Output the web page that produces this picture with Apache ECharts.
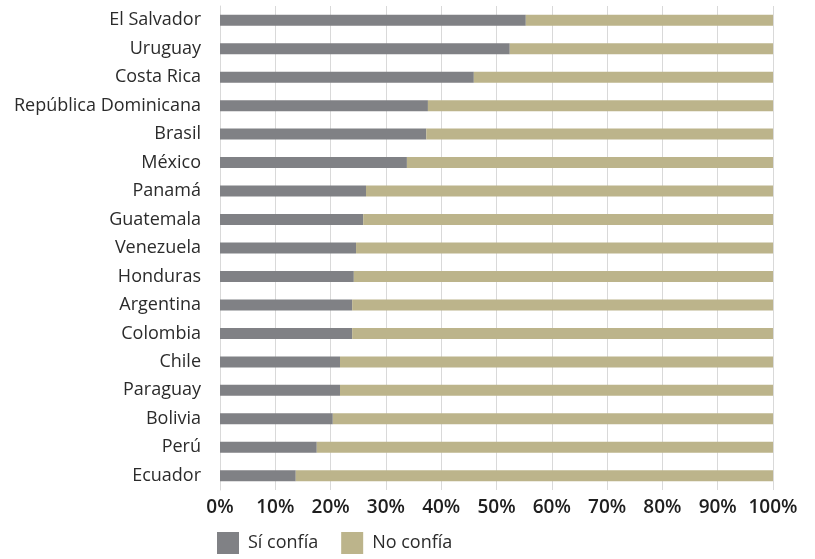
<!DOCTYPE html>
<html>
<head>
<meta charset="utf-8">
<script src="https://cdn.jsdelivr.net/npm/echarts@6/dist/echarts.min.js"></script>
<style>
  html, body { margin: 0; padding: 0; background: #ffffff; }
  #chart { width: 815px; height: 559px; }
</style>
</head>
<body>
<div id="chart"></div>
<script>
// Countries, top to bottom
const paises = [
  'El Salvador', 'Uruguay', 'Costa Rica', 'República Dominicana', 'Brasil',
  'México', 'Panamá', 'Guatemala', 'Venezuela', 'Honduras', 'Argentina',
  'Colombia', 'Chile', 'Paraguay', 'Bolivia', 'Perú', 'Ecuador'
];
// Share of respondents (%) who trust / do not trust
const siConfia = [55.3, 52.4, 45.9, 37.6, 37.3, 33.8, 26.4, 25.9, 24.6, 24.2, 23.9, 23.9, 21.7, 21.7, 20.4, 17.5, 13.7];
const noConfia = [44.7, 47.6, 54.1, 62.4, 62.7, 66.2, 73.6, 74.1, 75.4, 75.8, 76.1, 76.1, 78.3, 78.3, 79.6, 82.5, 86.3];
const serieNombres = ['Sí confía', 'No confía'];

const fuente = '"Open Sans", "Noto Sans", sans-serif';
const chart = echarts.init(document.getElementById('chart'));
chart.setOption({
  animation: false,
  textStyle: { fontFamily: fuente },
  grid: { left: 220, right: 42, top: 6, bottom: 69, containLabel: false },
  xAxis: {
    type: 'value', min: 0, max: 100, interval: 10,
    axisLabel: { formatter: '{value}%', color: '#1e1e1e', fontSize: 19, fontWeight: 600, margin: 8, fontFamily: fuente },
    axisLine: { show: false }, axisTick: { show: false },
    splitLine: { show: true, lineStyle: { color: '#d9d9d9', width: 1 } }
  },
  yAxis: {
    type: 'category', data: paises, inverse: true,
    axisLabel: { color: '#2b2b2b', fontSize: 18, margin: 19, fontFamily: fuente },
    axisLine: { show: true, lineStyle: { color: '#d9d9d9' } },
    axisTick: { show: false }
  },
  legend: {
    bottom: 0, left: 212, itemWidth: 22, itemHeight: 22, itemGap: 23, icon: 'rect',
    textStyle: { color: '#2b2b2b', fontSize: 18, fontFamily: fuente, padding: [0, 0, 0, 4] },
    data: serieNombres
  },
  series: [
    { name: serieNombres[0], type: 'bar', stack: 'total', data: siConfia, barWidth: 11,
      itemStyle: { color: '#808185' } },
    { name: serieNombres[1], type: 'bar', stack: 'total', data: noConfia, barWidth: 11,
      itemStyle: { color: '#bcb48b' } }
  ]
});
</script>
</body>
</html>
